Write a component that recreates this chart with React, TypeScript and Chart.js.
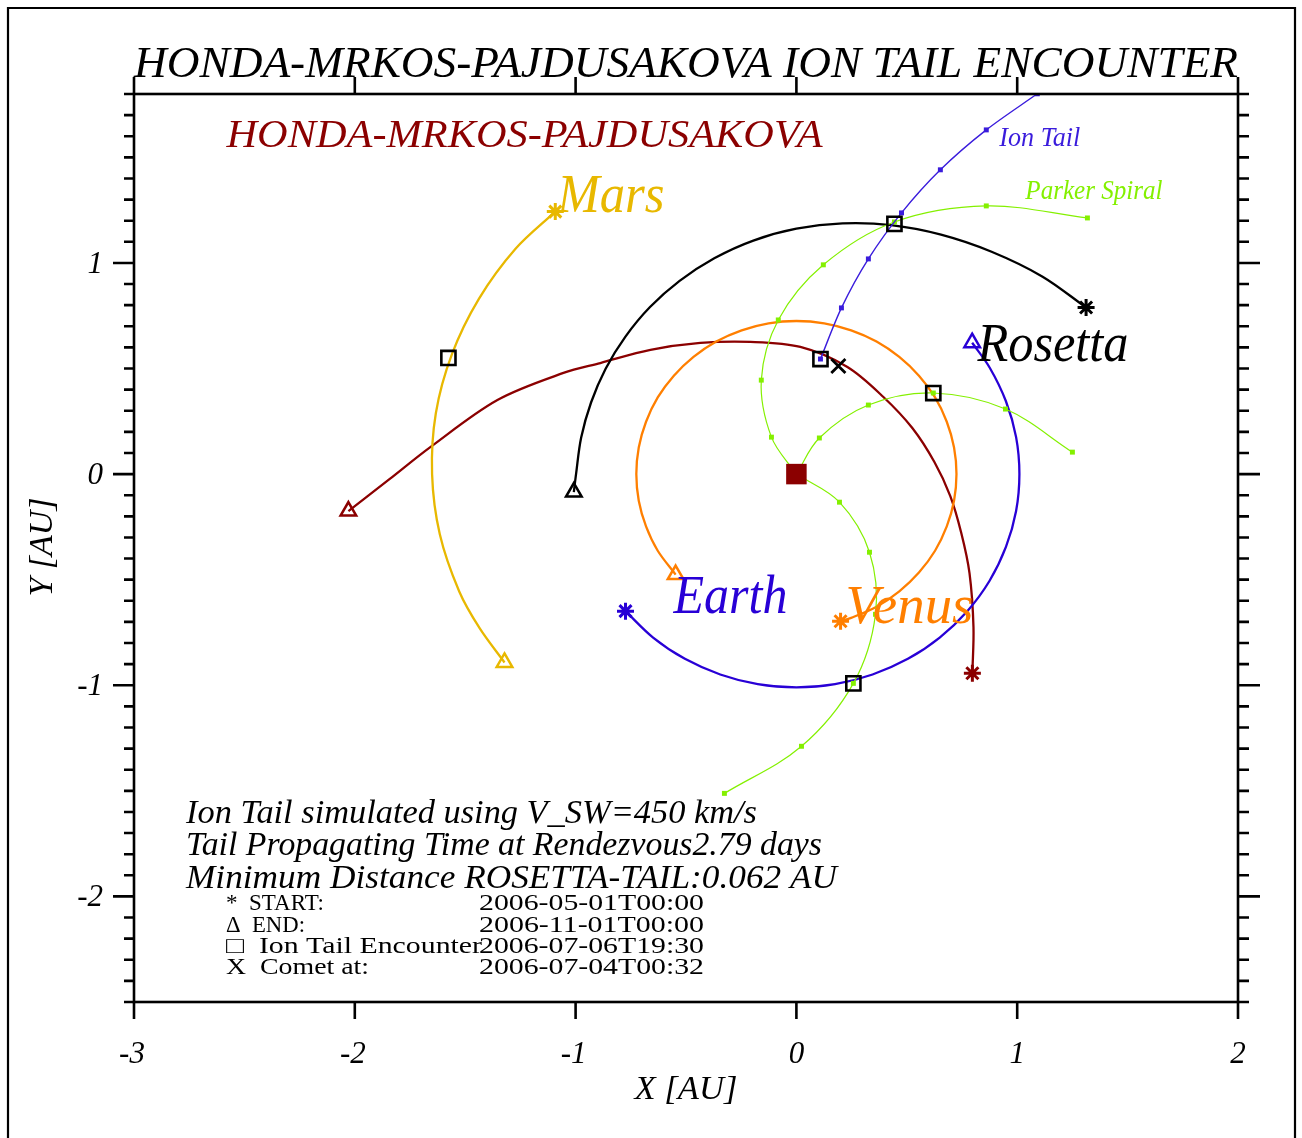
import React, { useEffect, useRef } from 'react';
import { Chart, registerables } from 'chart.js';

Chart.register(...registerables);

// ---------- data (AU) ----------
const earthX = [-0.774, -0.649, -0.505, -0.345, -0.175, 0.0, 0.175, 0.345, 0.505, 0.649, 0.774, 0.875, 0.949, 0.995, 1.01, 0.995, 0.949, 0.875, 0.796];
const earthY = [-0.649, -0.774, -0.875, -0.949, -0.995, -1.01, -0.995, -0.949, -0.875, -0.774, -0.649, -0.505, -0.345, -0.175, 0.0, 0.175, 0.345, 0.505, 0.622];

const venusX = [0.2, 0.248, 0.363, 0.466, 0.555, 0.628, 0.681, 0.714, 0.725, 0.714, 0.681, 0.628, 0.555, 0.466, 0.363, 0.248, 0.126, 0.0, -0.126, -0.248, -0.363, -0.466, -0.555, -0.628, -0.681, -0.714, -0.725, -0.714, -0.681, -0.628, -0.547];
const venusY = [-0.697, -0.681, -0.628, -0.555, -0.466, -0.363, -0.248, -0.126, 0.0, 0.126, 0.248, 0.363, 0.466, 0.555, 0.628, 0.681, 0.714, 0.725, 0.714, 0.681, 0.628, 0.555, 0.466, 0.363, 0.248, 0.126, 0.0, -0.126, -0.248, -0.363, -0.476];

const marsX = [-1.092, -1.272, -1.438, -1.56, -1.633, -1.65, -1.615, -1.527, -1.434, -1.322];
const marsY = [1.243, 1.067, 0.83, 0.568, 0.288, 0.0, -0.285, -0.556, -0.731, -0.892];

const rosettaX = [1.312, 1.115, 0.884, 0.655, 0.429, 0.209, 0.0, -0.195, -0.372, -0.529, -0.663, -0.775, -0.864, -0.93, -0.975, -0.998, -1.008];
const rosettaY = [0.789, 0.935, 1.053, 1.134, 1.179, 1.187, 1.162, 1.106, 1.022, 0.915, 0.791, 0.65, 0.499, 0.339, 0.172, 0.0, -0.085];

const cometX = [0.797, 0.802, 0.784, 0.747, 0.697, 0.625, 0.525, 0.394, 0.231, 0.018, -0.208, -0.435, -0.661, -0.888, -1.055, -1.354, -1.658, -1.843, -2.029];
const cometY = [-0.943, -0.725, -0.469, -0.28, -0.104, 0.057, 0.218, 0.365, 0.507, 0.602, 0.626, 0.621, 0.588, 0.526, 0.479, 0.351, 0.128, -0.024, -0.175];

const ionTailX = [0.109, 0.204, 0.326, 0.476, 0.652, 0.86, 1.091];
const ionTailY = [0.545, 0.787, 1.019, 1.237, 1.441, 1.63, 1.801];

const parkerAX = [0.0, -0.113, -0.159, -0.082, 0.122, 0.444, 0.86, 1.318];
const parkerAY = [0.0, 0.175, 0.445, 0.73, 0.991, 1.194, 1.27, 1.213];
const parkerBX = [0.0, 0.104, 0.326, 0.62, 0.947, 1.25];
const parkerBY = [0.0, 0.171, 0.327, 0.384, 0.308, 0.104];
const parkerCX = [0.0, 0.195, 0.331, 0.358, 0.258, 0.023, -0.326];
const parkerCY = [0.0, -0.133, -0.37, -0.664, -0.991, -1.289, -1.512];

// encounter squares: Mars, Rosetta, Venus, Earth, Ion tail
const encounterX = [-1.576, 0.444, 0.62, 0.258, 0.109];
const encounterY = [0.55, 1.185, 0.384, -0.991, 0.545];

const cometAtX = [0.19];
const cometAtY = [0.512];

const sunX = [0.0];
const sunY = [0.0];

// ticks
const xTickValues = [-3, -2, -1, 0, 1, 2];
const xTickLabels = ['-3', '-2', '-1', '0', '1', '2'];
const yTickValues = [-2, -1, 0, 1];
const yTickLabels = ['-2', '-1', '0', '1'];

// texts
const titleText = 'HONDA-MRKOS-PAJDUSAKOVA ION TAIL ENCOUNTER';
const plotLabels = ['HONDA-MRKOS-PAJDUSAKOVA', 'Mars', 'Rosetta', 'Earth', 'Venus', 'Ion Tail', 'Parker Spiral'];
const plotLabelX = [-2.581, -1.082, 0.82, -0.557, 0.222, 0.919, 1.037];
const plotLabelY = [1.55, 1.242, 0.536, -0.659, -0.706, 1.555, 1.303];
const infoLines = [
  'Ion Tail simulated using V_SW=450 km/s',
  'Tail Propagating Time at Rendezvous2.79 days',
  'Minimum Distance ROSETTA-TAIL:0.062 AU',
];
const keyLabels = ['*  START:', '\u0394  END:', '\u25A1  Ion Tail Encounter', 'X  Comet at:'];
const keyDates = ['2006-05-01T00:00', '2006-11-01T00:00', '2006-07-06T19:30', '2006-07-04T00:32'];

// ---------- styles ----------
const C_EARTH = '#2800d6';
const C_VENUS = '#ff7f00';
const C_MARS = '#e8b800';
const C_ROSETTA = '#000000';
const C_COMET = '#8b0000';
const C_ION = '#3a1cdc';
const C_PARKER = '#84f000';

const SERIF = '"Liberation Serif", "DejaVu Serif", serif';
const plotLabelStyle = [
  { color: C_COMET, size: 39, width: 596 },
  { color: C_MARS, size: 54, width: 107 },
  { color: C_ROSETTA, size: 54, width: 151 },
  { color: C_EARTH, size: 54, width: 114 },
  { color: C_VENUS, size: 54, width: 128 },
  { color: C_ION, size: 27, width: 81 },
  { color: C_PARKER, size: 27, width: 137 },
];
const infoWidths = [571, 636, 651];
const infoBaselines = [823, 855, 888];
const keyWidths = [98, 79, 256, 143];
const keyBaselines = [910, 932, 953, 974];

const pts = (xs: number[], ys: number[]) => xs.map((x, i) => ({ x, y: ys[i] }));

function fitText(ctx: CanvasRenderingContext2D, text: string, x: number, y: number, w: number | null, font: string, color: string, align: 'left' | 'center' | 'right' = 'left') {
  ctx.save();
  ctx.font = font;
  ctx.fillStyle = color;
  ctx.textBaseline = 'alphabetic';
  ctx.textAlign = 'left';
  const nat = ctx.measureText(text).width;
  const ww = w == null ? nat : w;
  const sx = ww / nat;
  const x0 = align === 'left' ? x : align === 'center' ? x - ww / 2 : x - ww;
  ctx.translate(x0, y);
  ctx.scale(sx, 1);
  ctx.fillText(text, 0, 0);
  ctx.restore();
}

const decorPlugin = {
  id: 'decor',
  afterDraw(chart: any) {
    const ctx: CanvasRenderingContext2D = chart.ctx;
    const { left, right, top, bottom } = chart.chartArea;
    const xs = chart.scales.x;
    const ys = chart.scales.y;
    ctx.save();
    // outer page frame
    ctx.strokeStyle = '#000';
    ctx.lineWidth = 2.2;
    ctx.beginPath();
    ctx.moveTo(8, 1140);
    ctx.lineTo(8, 8);
    ctx.lineTo(1295, 8);
    ctx.lineTo(1295, 1140);
    ctx.stroke();

    // plot box
    ctx.lineWidth = 2.6;
    ctx.strokeRect(left, top, right - left, bottom - top);

    // x ticks
    xTickValues.forEach((v) => {
      const px = xs.getPixelForValue(v);
      ctx.beginPath();
      ctx.moveTo(px, bottom);
      ctx.lineTo(px, bottom + 17);
      ctx.moveTo(px, top);
      ctx.lineTo(px, top - 17);
      ctx.stroke();
    });
    // y minor + major ticks
    for (let k = -25; k <= 18; k++) {
      const v = k / 10;
      const py = ys.getPixelForValue(v);
      const major = k % 10 === 0;
      const len = major ? 21 : 10;
      ctx.beginPath();
      ctx.moveTo(left, py);
      ctx.lineTo(left - len, py);
      ctx.moveTo(right, py);
      ctx.lineTo(right + len + 1, py);
      ctx.stroke();
    }
    ctx.restore();

    const tickFont = `italic 31px ${SERIF}`;
    xTickValues.forEach((v, i) => {
      const px = xs.getPixelForValue(v);
      fitText(ctx, xTickLabels[i], px - (v < 0 ? 2 : 0), bottom + 61, null, tickFont, '#000', 'center');
    });
    yTickValues.forEach((v, i) => {
      const py = ys.getPixelForValue(v);
      fitText(ctx, yTickLabels[i], left - 31, py + 10, null, tickFont, '#000', 'right');
    });

    // axis titles
    const axisFont = `italic 33px ${SERIF}`;
    fitText(ctx, 'X [AU]', 686, 1099, 103, axisFont, '#000', 'center');
    ctx.save();
    ctx.translate(52, 547);
    ctx.rotate(-Math.PI / 2);
    fitText(ctx, 'Y [AU]', 0, 0, 99, axisFont, '#000', 'center');
    ctx.restore();

    // title
    fitText(ctx, titleText, left, 77, right - left, `italic 44px ${SERIF}`, '#000', 'left');

    // plot labels
    plotLabels.forEach((t, i) => {
      const st = plotLabelStyle[i];
      fitText(ctx, t, xs.getPixelForValue(plotLabelX[i]), ys.getPixelForValue(plotLabelY[i]), st.width, `italic ${st.size}px ${SERIF}`, st.color, 'left');
    });

    // info lines
    infoLines.forEach((t, i) => {
      fitText(ctx, t, 186, infoBaselines[i], infoWidths[i], `italic 33px ${SERIF}`, '#000', 'left');
    });
    keyLabels.forEach((t, i) => {
      fitText(ctx, t, 226, keyBaselines[i], keyWidths[i], `23px ${SERIF}`, '#000', 'left');
      fitText(ctx, keyDates[i], 479, keyBaselines[i], 225, `23px ${SERIF}`, '#000', 'left');
    });
  },
};

export default function App() {
  const ref = useRef<HTMLCanvasElement | null>(null);
  useEffect(() => {
    if (!ref.current) return;
    const orbit = (data: any, color: string, order: number, width = 2.3) => ({
      data,
      showLine: true,
      borderColor: color,
      borderWidth: width,
      pointRadius: 0,
      tension: 0.33,
      order,
    });
    const parker = (data: any, order: number) => ({
      data,
      showLine: true,
      borderColor: C_PARKER,
      borderWidth: 1.2,
      pointStyle: 'rect',
      pointRadius: 3.5,
      pointBackgroundColor: C_PARKER,
      pointBorderColor: C_PARKER,
      pointBorderWidth: 0,
      tension: 0.35,
      order,
    });
    const orbitsX = [earthX, venusX, marsX, rosettaX, cometX];
    const orbitsY = [earthY, venusY, marsY, rosettaY, cometY];
    const orbitColors = [C_EARTH, C_VENUS, C_MARS, C_ROSETTA, C_COMET];
    const startPts = orbitsX.map((xs, i) => ({ x: xs[0], y: orbitsY[i][0] }));
    const endPts = orbitsX.map((xs, i) => ({ x: xs[xs.length - 1], y: orbitsY[i][orbitsY[i].length - 1] }));

    const chart = new Chart(ref.current, {
      type: 'scatter',
      data: {
        datasets: [
          {
            data: pts(sunX, sunY),
            pointStyle: 'rect',
            pointRadius: 14.5,
            pointBackgroundColor: C_COMET,
            pointBorderColor: C_COMET,
            pointBorderWidth: 0,
            order: 0,
          },
          {
            data: pts(cometAtX, cometAtY),
            pointStyle: 'crossRot',
            pointRadius: 10,
            pointBorderColor: '#000',
            pointBorderWidth: 2.8,
            order: 1,
          },
          {
            data: pts(encounterX, encounterY),
            pointStyle: 'rect',
            pointRadius: 10,
            pointBackgroundColor: 'rgba(0,0,0,0)',
            pointBorderColor: '#000',
            pointBorderWidth: 2.6,
            order: 2,
          },
          {
            data: startPts,
            pointStyle: 'star',
            pointRadius: 8.5,
            pointBorderColor: orbitColors,
            pointBackgroundColor: orbitColors,
            pointBorderWidth: 3,
            order: 3,
          },
          {
            data: endPts,
            pointStyle: 'triangle',
            pointRadius: 9,
            pointBorderColor: orbitColors,
            pointBackgroundColor: 'rgba(255,255,255,0)',
            pointBorderWidth: 2.5,
            order: 4,
          },
          {
            data: pts(ionTailX, ionTailY),
            showLine: true,
            borderColor: C_ION,
            borderWidth: 1.4,
            pointStyle: 'rect',
            pointRadius: 3.5,
            pointBackgroundColor: C_ION,
            pointBorderColor: C_ION,
            pointBorderWidth: 0,
            tension: 0.3,
            order: 5,
          },
          parker(pts(parkerAX, parkerAY), 6),
          parker(pts(parkerBX, parkerBY), 7),
          parker(pts(parkerCX, parkerCY), 8),
          orbit(pts(earthX, earthY), C_EARTH, 9),
          orbit(pts(venusX, venusY), C_VENUS, 10),
          orbit(pts(marsX, marsY), C_MARS, 11),
          orbit(pts(rosettaX, rosettaY), C_ROSETTA, 12),
          orbit(pts(cometX, cometY), C_COMET, 13),
        ] as any,
      },
      options: {
        responsive: false,
        animation: false,
        devicePixelRatio: 1,
        layout: { padding: { left: 134, top: 94, right: 64, bottom: 136 } },
        plugins: { legend: { display: false }, tooltip: { enabled: false } },
        scales: {
          x: { type: 'linear', min: -3, max: 2, display: false },
          y: { type: 'linear', min: -2.5, max: 1.8, display: false },
        },
      } as any,
      plugins: [decorPlugin],
    });
    return () => chart.destroy();
  }, []);
  return (
    <canvas
      ref={ref}
      width={1302}
      height={1138}
      style={{ position: 'absolute', left: 0, top: 0, width: '1302px', height: '1138px', background: '#fff' }}
    />
  );
}
